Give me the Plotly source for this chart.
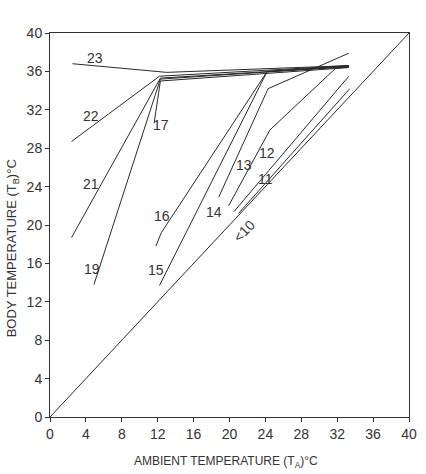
import plotly.graph_objects as go

# Ambient temperature (x) and body temperature (y) for each labelled curve
x_lt10 = [0, 40]
y_lt10 = [0, 40]
x_11 = [21.0, 33.4]
y_11 = [21.2, 34.2]
x_12 = [20.5, 33.3]
y_12 = [21.4, 35.5]
x_13 = [19.9, 24.5, 31.8, 33.3]
y_13 = [22.0, 29.9, 36.3, 36.5]
x_14 = [18.8, 24.3, 33.3]
y_14 = [22.9, 34.2, 37.9]
x_15 = [12.2, 24.2, 33.3]
y_15 = [13.7, 36.0, 36.5]
x_16 = [11.8, 12.4, 24.2, 33.3]
y_16 = [17.8, 19.2, 36.0, 36.6]
x_17 = [11.6, 12.3, 33.3]
y_17 = [30.6, 35.0, 36.4]
x_19 = [4.9, 12.3, 33.3]
y_19 = [13.8, 35.2, 36.5]
x_21 = [2.4, 12.3, 33.3]
y_21 = [18.7, 35.3, 36.5]
x_22 = [2.4, 12.2, 33.3]
y_22 = [28.7, 35.5, 36.6]
x_23 = [2.5, 13.0, 33.3]
y_23 = [36.8, 35.9, 36.6]

series = [
    ("<10", x_lt10, y_lt10), ("11", x_11, y_11), ("12", x_12, y_12),
    ("13", x_13, y_13), ("14", x_14, y_14), ("15", x_15, y_15),
    ("16", x_16, y_16), ("17", x_17, y_17), ("19", x_19, y_19),
    ("21", x_21, y_21), ("22", x_22, y_22), ("23", x_23, y_23),
]

# curve labels and their positions
label_text = ["23", "22", "21", "19", "17", "16", "15", "14", "13", "12", "11", "&lt;10"]
label_x = [5.0, 4.6, 4.6, 4.7, 12.4, 12.5, 11.8, 18.3, 21.6, 24.2, 24.0, 21.6]
label_y = [37.4, 31.4, 24.3, 15.4, 30.4, 20.9, 15.3, 21.4, 26.3, 27.5, 24.8, 19.4]
label_angle = [0, 0, 0, 0, 0, 0, 0, 0, 0, 0, 0, -46]

tick_vals = list(range(0, 41, 4))
tick_text = [str(v) for v in tick_vals]

FONT = "Liberation Sans Narrow, Liberation Sans, DejaVu Sans, sans-serif"

fig = go.Figure()
for name, xs, ys in series:
    fig.add_trace(go.Scatter(x=xs, y=ys, mode="lines", name=name,
                             line=dict(color="#2a2a2a", width=1),
                             showlegend=False, hoverinfo="skip"))

for t, x, y, a in zip(label_text, label_x, label_y, label_angle):
    fig.add_annotation(x=x, y=y, text=t, showarrow=False, textangle=a,
                       font=dict(family=FONT, size=14, color="#333"))

fig.add_annotation(xref="paper", yref="paper", x=0.49, y=-0.118,
                   text="AMBIENT TEMPERATURE (T<sub>A</sub>)°C", showarrow=False,
                   font=dict(family=FONT, size=12, color="#333"),
                   xanchor="center", yanchor="middle")
fig.add_annotation(xref="paper", yref="paper", x=-0.105, y=0.44,
                   text="BODY TEMPERATURE (T<sub>B</sub>)°C", showarrow=False,
                   textangle=-90,
                   font=dict(family=FONT, size=13, color="#333"),
                   xanchor="center", yanchor="middle")

axis_common = dict(range=[0, 40], tickvals=tick_vals, ticktext=tick_text,
                   showgrid=False, zeroline=False, showline=True,
                   linecolor="#333", linewidth=1, mirror=True,
                   ticks="outside", ticklen=4, tickcolor="#333",
                   tickfont=dict(family=FONT, size=14, color="#333"))

fig.update_layout(
    width=426, height=474,
    margin=dict(l=50, r=9, t=33, b=57),
    paper_bgcolor="white", plot_bgcolor="white",
    xaxis=dict(**axis_common),
    yaxis=dict(**axis_common),
)

fig.write_html("out.html")
